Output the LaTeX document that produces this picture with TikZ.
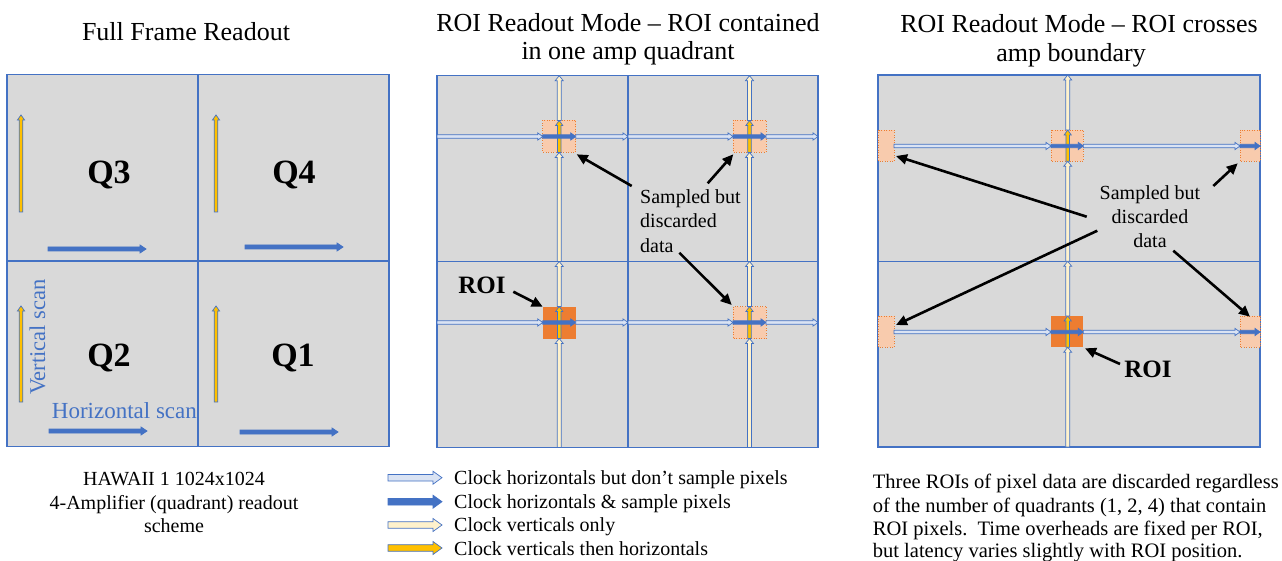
\documentclass[tikz,border=0pt]{standalone}
\usepackage{fontspec}
\setmainfont{Liberation Serif}
\usetikzlibrary{arrows.meta}
\definecolor{pgray}{HTML}{D9D9D9}
\definecolor{pblue}{HTML}{4472C4}
\definecolor{lblue}{HTML}{DAE3F3}
\definecolor{cream}{HTML}{FFF2CC}
\definecolor{gold}{HTML}{FFC000}
\definecolor{roiorange}{HTML}{ED7D31}
\definecolor{lorange}{HTML}{F8CBAD}
% horizontal right-pointing arrow: x1 x2 y fill halfshaft halfhead headlen
\newcommand\HA[7]{\filldraw[fill=#4,draw=pblue,line width=0.7,line join=miter]
 (#1,#3-#5) -- (#2-#7,#3-#5) -- (#2-#7,#3-#6) -- (#2,#3) -- (#2-#7,#3+#6) -- (#2-#7,#3+#5) -- (#1,#3+#5) -- cycle;}
% vertical up-pointing arrow: x ybottom ytop fill halfshaft halfhead headlen
\newcommand\VA[7]{\filldraw[fill=#4,draw=pblue,line width=0.7,line join=miter]
 (#1-#5,#2) -- (#1-#5,#3+#7) -- (#1-#6,#3+#7) -- (#1,#3) -- (#1+#6,#3+#7) -- (#1+#5,#3+#7) -- (#1+#5,#2) -- cycle;}
\tikzset{
  panel/.style={fill=pgray,draw=pblue,line width=1.1},
  divider/.style={draw=pblue,line width=1.1},
  sampbox/.style={fill=lorange,draw=roiorange,line width=0.8,dash pattern=on 1pt off 1.5pt},
  roibox/.style={fill=roiorange},
  callout/.style={draw=black,line width=2.6,-{Triangle[length=11pt,width=10pt]}},
  ttl/.style={font=\fontsize{26}{29}\selectfont,anchor=base,inner sep=0},
  body/.style={font=\fontsize{20}{24}\selectfont,inner sep=0},
  qlab/.style={font=\fontsize{34}{38}\selectfont\bfseries,anchor=base,inner sep=0},
  roilab/.style={font=\fontsize{25}{28}\selectfont\bfseries,anchor=base,inner sep=0},
}
\begin{document}
\begin{tikzpicture}[x=1pt,y=-1pt]
\useasboundingbox (0,0) rectangle (1282,561);
\fill[white] (0,0) rectangle (1282,561);

% ---------------- Titles
\node[ttl] (t1) at (186,40.7) {Full Frame Readout};
\node[ttl] (t2a) at (628,31.7) {ROI Readout Mode -- ROI contained};
\node[ttl] (t2b) at (628,60) {in one amp quadrant};
\node[ttl] (t3a) at (1079,33) {ROI Readout Mode -- ROI crosses};
\node[ttl] (t3b) at (1071,61.7) {amp boundary};

% ---------------- Panel 1
\draw[panel] (7,74.7) rectangle (389,446.7);
\draw[divider] (198,74.7) -- (198,446.7);
\draw[divider] (7,261) -- (389,261);
\VA{21}{212}{115}{gold}{1.8}{3.6}{5}
\VA{216}{212}{115}{gold}{1.8}{3.6}{5}
\VA{21}{402}{306}{gold}{1.8}{3.6}{5}
\VA{216}{402}{306}{gold}{1.8}{3.6}{5}
\HA{48}{146}{249}{pblue}{2}{4}{6}
\HA{245}{343}{247}{pblue}{2}{4}{6}
\HA{49}{147}{431}{pblue}{2}{4}{6}
\HA{240}{338}{432}{pblue}{2}{4}{6}
\node[qlab] (q3) at (109,183.3) {Q3};
\node[qlab] (q4) at (294,183.3) {Q4};
\node[qlab] (q2) at (109,366.7) {Q2};
\node[qlab] (q1) at (293,366.7) {Q1};
\node[font=\fontsize{22.5}{26}\selectfont,text=pblue,rotate=90,anchor=base west,inner sep=0] (vs) at (45,395) {Vertical scan};
\node[font=\fontsize{23}{26}\selectfont,text=pblue,anchor=base west,inner sep=0] (hs) at (51.7,418.3) {Horizontal scan};

% ---------------- Panel 2
\draw[panel] (437,75.7) rectangle (818,447.7);
\draw[divider] (628,75.7) -- (628,447.7);
\draw[divider] (437,261.5) -- (818,261.5);
\draw[sampbox] (542.7,120.5) rectangle (575.7,152.5);
\draw[sampbox] (733,120.5) rectangle (766,152.5);
\draw[sampbox] (733,306.5) rectangle (766,338.5);
\fill[roibox] (542.7,306.5) rectangle (575.7,338.5);
\foreach \cx in {559.2,749.5}{
  \VA{\cx}{447.5}{338.5}{cream}{2}{4}{5}
  \VA{\cx}{338.5}{306.5}{gold}{1.8}{3.6}{5}
  \VA{\cx}{306.5}{261.5}{cream}{2}{4}{5}
  \VA{\cx}{261.5}{152.5}{cream}{2}{4}{5}
  \VA{\cx}{152.5}{120.5}{gold}{1.8}{3.6}{5}
  \VA{\cx}{120.5}{75.7}{cream}{2}{4}{5}
}
\foreach \ry in {136.5,322.5}{
  \HA{437}{542.7}{\ry}{lblue}{1.7}{3.6}{5}
  \HA{542.7}{575.7}{\ry}{pblue}{1.7}{3.6}{5}
  \HA{575.7}{628}{\ry}{lblue}{1.7}{3.6}{5}
  \HA{628}{733}{\ry}{lblue}{1.7}{3.6}{5}
  \HA{733}{766}{\ry}{pblue}{1.7}{3.6}{5}
  \HA{766}{818}{\ry}{lblue}{1.7}{3.6}{5}
}
\node[body,anchor=base west] (s2a) at (640,204) {Sampled but};
\node[body,anchor=base west] (s2b) at (640,228) {discarded};
\node[body,anchor=base west] (s2c) at (640,252.3) {data};
\node[roilab] (roi2) at (482,293.3) {ROI};
\coordinate (c2a0) at (631.7,186);   \coordinate (c2a1) at (576.7,154.3);
\coordinate (c2b0) at (707.7,183.3); \coordinate (c2b1) at (733.3,154.3);
\coordinate (c2c0) at (679.3,252.7); \coordinate (c2c1) at (731.7,305);
\coordinate (c2d0) at (513.3,291.7); \coordinate (c2d1) at (542.7,306.7);
\draw[callout] (c2a0) -- (c2a1);
\draw[callout] (c2b0) -- (c2b1);
\draw[callout] (c2c0) -- (c2c1);
\draw[callout] (c2d0) -- (c2d1);

% ---------------- Panel 3
\draw[panel] (878,75) rectangle (1260,447);
\draw[divider] (1067.7,75) -- (1067.7,447);
\draw[divider] (878,261.3) -- (1260,261.3);
\foreach \yt/\yb in {130/161.3,316/347.3}{
  \draw[sampbox] (878.3,\yt) rectangle (894,\yb);
  \draw[sampbox] (1240,\yt) rectangle (1260,\yb);
}
\draw[sampbox] (1051,130) rectangle (1083.3,161.3);
\fill[roibox] (1051,316) rectangle (1083.3,347.3);
\VA{1067.7}{447}{347.3}{cream}{2}{4}{5}
\VA{1067.7}{347.3}{316}{gold}{1.8}{3.6}{5}
\VA{1067.7}{316}{261.3}{cream}{2}{4}{5}
\VA{1067.7}{261.3}{161.3}{cream}{2}{4}{5}
\VA{1067.7}{161.3}{130}{gold}{1.8}{3.6}{5}
\VA{1067.7}{130}{75}{cream}{2}{4}{5}
\foreach \ry in {146,332}{
  \HA{894}{1051}{\ry}{lblue}{1.7}{3.6}{5}
  \HA{1051}{1083.3}{\ry}{pblue}{1.7}{3.6}{5}
  \HA{1083.3}{1240}{\ry}{lblue}{1.7}{3.6}{5}
  \HA{1240}{1260}{\ry}{pblue}{1.7}{3.6}{5}
}
\node[body,anchor=base] (s3a) at (1150,200) {Sampled but};
\node[body,anchor=base] (s3b) at (1150,224) {discarded};
\node[body,anchor=base] (s3c) at (1150,247.3) {data};
\node[roilab] (roi3) at (1148,377.3) {ROI};
\coordinate (c3a0) at (1086.7,216.7); \coordinate (c3a1) at (896,156);
\coordinate (c3b0) at (1097.3,230.7); \coordinate (c3b1) at (896,325);
\coordinate (c3c0) at (1213.3,186);   \coordinate (c3c1) at (1237.7,163.3);
\coordinate (c3d0) at (1173.3,250.7); \coordinate (c3d1) at (1250,316.7);
\coordinate (c3e0) at (1120,364);     \coordinate (c3e1) at (1085,348.3);
\draw[callout] (c3a0) -- (c3a1);
\draw[callout] (c3b0) -- (c3b1);
\draw[callout] (c3c0) -- (c3c1);
\draw[callout] (c3d0) -- (c3d1);
\draw[callout] (c3e0) -- (c3e1);

% ---------------- Caption panel 1
\node[body,anchor=base] (h1) at (174,485.5) {HAWAII 1 1024x1024};
\node[body,anchor=base] (h2) at (174,509) {4-Amplifier (quadrant) readout};
\node[body,anchor=base] (h3) at (174,532.5) {scheme};

% ---------------- Legend
\HA{388}{442}{477.7}{lblue}{3.3}{6.5}{9}
\HA{388}{442}{501.7}{pblue}{3.3}{6.5}{9}
\HA{388}{442}{525}{cream}{3.3}{6.5}{9}
\HA{388}{442}{548}{gold}{3.3}{6.5}{9}
\node[body,anchor=base west] (l1) at (454,484.3) {Clock horizontals but don’t sample pixels};
\node[body,anchor=base west] (l2) at (454,508.3) {Clock horizontals \& sample pixels};
\node[body,anchor=base west] (l3) at (454,531.7) {Clock verticals only};
\node[body,anchor=base west] (l4) at (454,555) {Clock verticals then horizontals};

% ---------------- Caption panel 3
\begin{scope}[every node/.style={font=\fontsize{20.5}{24}\selectfont,inner sep=0,anchor=base west}]
\node (r1) at (872.7,488.5) {Three ROIs of pixel data are discarded regardless};
\node (r2) at (872.7,512) {of the number of quadrants (1, 2, 4) that contain};
\node (r3) at (872.7,535.5) {ROI pixels.\ \ Time overheads are fixed per ROI,};
\node (r4) at (872.7,557) {but latency varies slightly with ROI position.};
\end{scope}
\end{tikzpicture}
\end{document}
